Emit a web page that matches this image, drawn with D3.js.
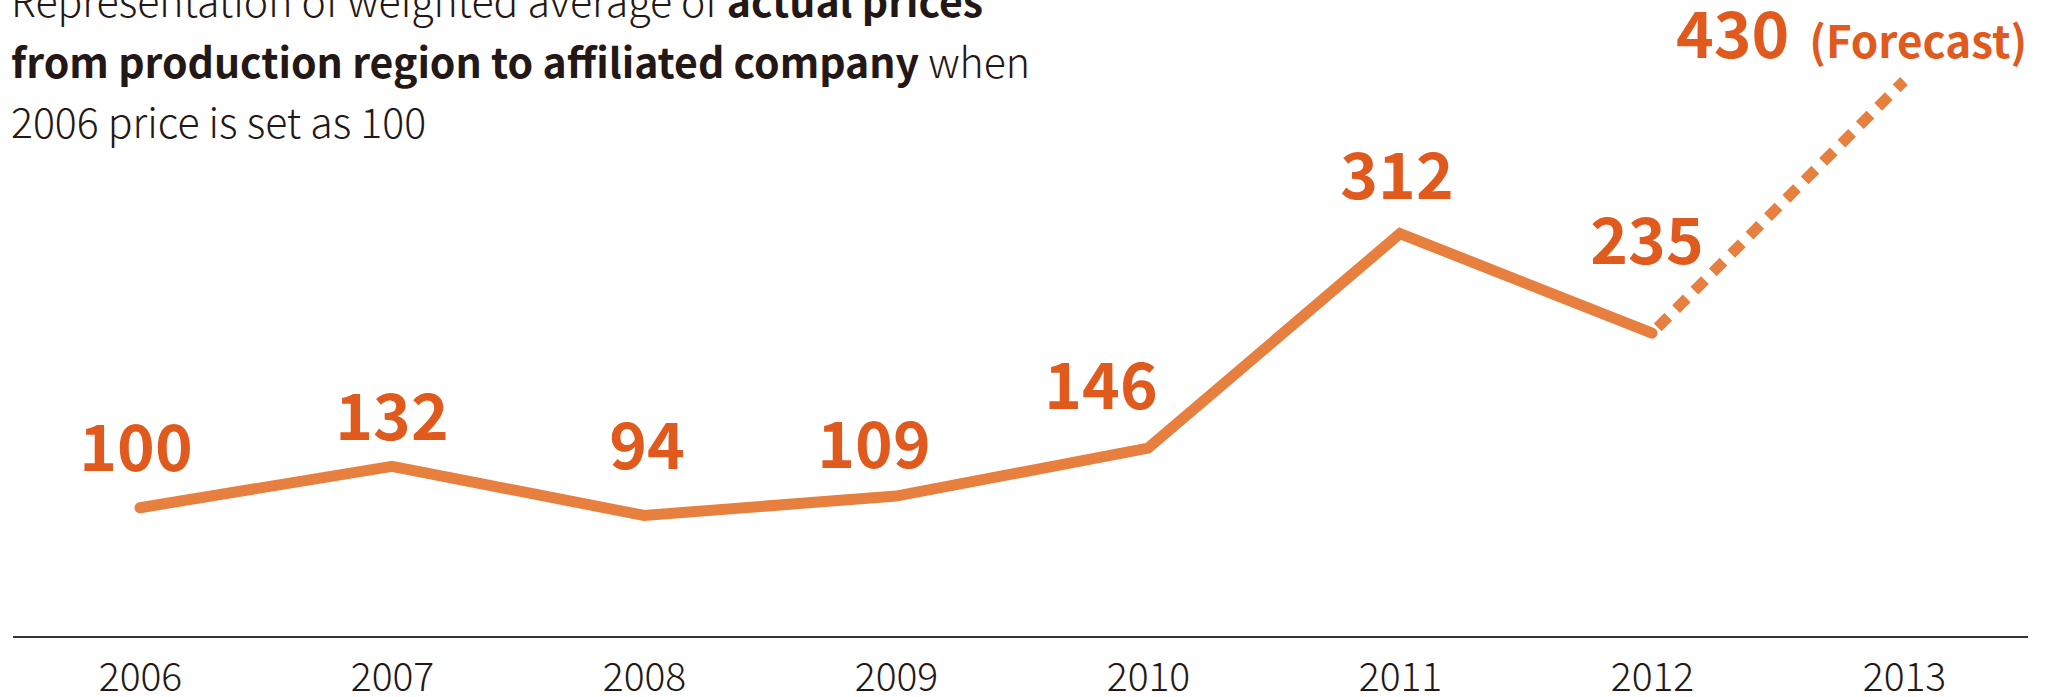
<!DOCTYPE html>
<html>
<head>
<meta charset="utf-8">
<script src="https://cdn.jsdelivr.net/npm/d3@7"></script>
<style>
  body { margin: 0; background: #fff; }
  svg { display: block; font-family: "Noto Sans CJK KR", "Noto Sans", sans-serif; }
</style>
</head>
<body>
<div id="chart"></div>
<script>
var years = ["2006", "2007", "2008", "2009", "2010", "2011", "2012", "2013"];
var values = [100, 132, 94, 109, 146, 312, 235, 430];
var forecastYear = "2013";

// label nudges (dx, dy from the point), layout only
var labelShift = [[-4, -37], [0, -26], [3, -46], [-22, -28], [-47, -39], [-3, -35], [-5, -69], [-228, -23]];

var width = 2048,
    height = 697;

var svg = d3.select("#chart").append("svg")
    .attr("width", width)
    .attr("height", height);

var x = d3.scalePoint()
    .domain(years)
    .range([140, 1904]);

var y = d3.scaleLinear()
    .domain([0, 430])
    .range([637, 81]);

var data = years.map(function(d, i) { return {year: d, value: values[i]}; });

// title
var title = svg.append("g")
    .attr("fill", "#231815")
    .attr("font-size", 41);

var t1 = title.append("text").attr("x", 11).attr("y", 17);
t1.append("tspan").attr("font-weight", 300).text("Representation of weighted average of ");
t1.append("tspan").attr("font-weight", 700).text("actual prices");

var t2 = title.append("text").attr("x", 11).attr("y", 78);
t2.append("tspan").attr("font-weight", 700).text("from production region to affiliated company");
t2.append("tspan").attr("font-weight", 300).text(" when");

title.append("text").attr("x", 11).attr("y", 138)
    .attr("font-weight", 300)
    .text("2006 price is set as 100");

// axis
svg.append("line")
    .attr("x1", 13)
    .attr("x2", 2028)
    .attr("y1", y(0))
    .attr("y2", y(0))
    .attr("stroke", "#333")
    .attr("stroke-width", 2);

var axis = svg.append("g")
    .attr("transform", "translate(0," + y(0) + ")")
    .call(d3.axisBottom(x).tickSize(0));

axis.select(".domain").remove();
axis.selectAll("text")
    .attr("y", 54)
    .attr("dy", 0)
    .attr("font-family", "'Noto Sans CJK KR', sans-serif")
    .attr("font-weight", 300)
    .attr("font-size", 39)
    .attr("fill", "#231815");

var line = d3.line()
    .x(function(d) { return x(d.year); })
    .y(function(d) { return y(d.value); });

var solid = data.filter(function(d) { return d.year !== forecastYear; });
var dashed = data.slice(data.length - 2);

svg.append("path")
    .datum(solid)
    .attr("d", line)
    .attr("fill", "none")
    .attr("stroke", "#e77f3f")
    .attr("stroke-width", 11)
    .attr("stroke-linejoin", "miter")
    .attr("stroke-linecap", "round");

svg.append("path")
    .datum(dashed)
    .attr("d", line)
    .attr("fill", "none")
    .attr("stroke", "#e77f3f")
    .attr("stroke-width", 11)
    .attr("stroke-dasharray", "15,11")
    .attr("stroke-dashoffset", -8);

// value labels
var labels = svg.append("g")
    .attr("fill", "#e05a1e")
    .attr("font-weight", 700)
    .attr("font-size", 64)
  .selectAll("text")
  .data(data)
  .enter().append("text")
    .attr("x", function(d, i) { return x(d.year) + labelShift[i][0]; })
    .attr("y", function(d, i) { return y(d.value) + labelShift[i][1]; })
    .attr("text-anchor", function(d) { return d.year === forecastYear ? "start" : "middle"; })
    .text(function(d) { return d.value; });

labels.filter(function(d) { return d.year === forecastYear; })
  .append("tspan")
    .attr("dx", 20)
    .attr("font-size", 44)
    .text("(Forecast)");
</script>
</body>
</html>
